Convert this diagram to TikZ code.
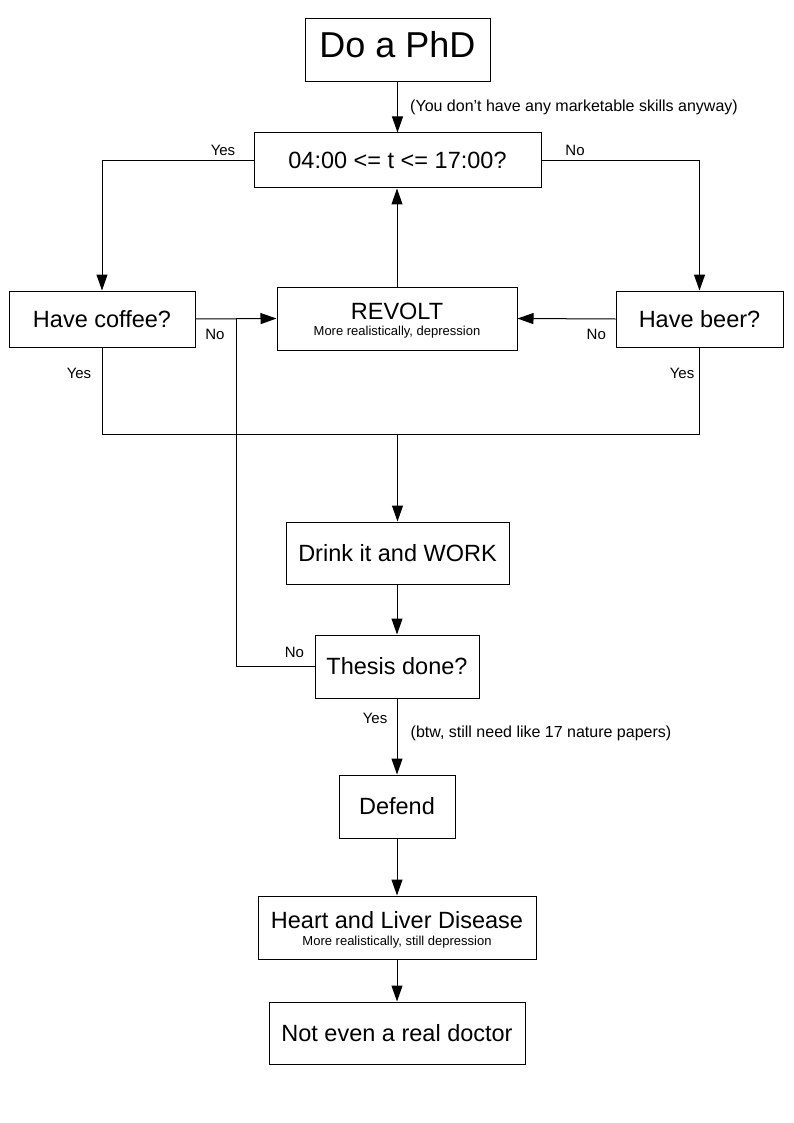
\documentclass[tikz,border=0pt]{standalone}
\usepackage{fontspec}
\setmainfont{Liberation Sans}
\usetikzlibrary{arrows.meta}
\tikzset{
  box/.style={draw, line width=1pt, inner sep=0pt, align=center},
  big/.style={font=\fontsize{23.5}{26}\selectfont, text height=16.8pt, text depth=0pt},
  sub/.style={inner sep=0pt, font=\fontsize{13}{15}\selectfont, text height=9.3pt, text depth=0pt},
  lab/.style={inner sep=0pt, font=\fontsize{15}{17}\selectfont, text height=10.7pt, text depth=0pt},
  note/.style={inner sep=0pt, font=\fontsize{16}{18}\selectfont, text height=11.5pt, text depth=0pt, anchor=west},
  conn/.style={line width=1pt},
  arr/.style={line width=1pt, -{Triangle[length=16pt,width=11pt]}}
}
\begin{document}
\begin{tikzpicture}[x=1pt,y=-1pt]
\useasboundingbox (0,0) rectangle (794,1123);
% boxes
\node[box, minimum width=185pt, minimum height=63pt, font=\fontsize{36}{40}\selectfont, text height=25.8pt, text depth=10.8pt] (phd) at (397.5,50.5) {Do a PhD};
\node[box, big, minimum width=287pt, minimum height=55pt] (time) at (397.5,160.5) {04:00 <= t <= 17:00?};
\node[box, big, minimum width=186pt, minimum height=56pt] (coffee) at (102,319) {Have coffee?};
\node[box, minimum width=240pt, minimum height=63pt] (revolt) at (397,318.5) {};
\node[big, inner sep=0pt] (revoltT) at (397,311) {REVOLT};
\node[sub] (revoltS) at (397,331) {More realistically, depression};
\node[box, big, minimum width=167pt, minimum height=56pt] (beer) at (699.5,319) {Have beer?};
\node[box, big, minimum width=223pt, minimum height=62pt] (drink) at (397.5,553) {Drink it and WORK};
\node[box, big, minimum width=164pt, minimum height=63pt] (thesis) at (397,666.5) {Thesis done?};
\node[box, big, minimum width=116pt, minimum height=63pt] (defend) at (397,806.5) {Defend};
\node[box, minimum width=278pt, minimum height=63pt] (heart) at (397,927.5) {};
\node[big, inner sep=0pt] (heartT) at (397,920) {Heart and Liver Disease};
\node[sub] (heartS) at (397,941) {More realistically, still depression};
\node[box, big, minimum width=256pt, minimum height=62pt] (doctor) at (397,1033) {Not even a real doctor};
% junctions
\coordinate (cl) at (102,160.5);
\coordinate (cr) at (699.5,160.5);
\coordinate (jl) at (102,434);
\coordinate (jr) at (699.5,434);
\coordinate (jm) at (397.5,434);
\coordinate (loopB) at (236,666.5);
\coordinate (loopT) at (236,319);
% connectors
\draw[arr] (phd.south -| 397.5,0) -- (time.north -| 397.5,0);
\draw[arr] (time.west) -- (cl) -- (coffee.north);
\draw[arr] (time.east) -- (cr) -- (beer.north);
\draw[arr] (coffee.east) -- (revolt.west);
\draw[arr] (beer.west) -- (revolt.east);
\draw[arr] (revolt.north) -- (time.south -| revolt.north);
\draw[conn] (coffee.south) -- (jl) -- (jr) -- (beer.south);
\draw[arr] (jm) -- (drink.north);
\draw[arr] (drink.south -| thesis.north) -- (thesis.north);
\draw[conn] (thesis.west) -- (loopB) -- (loopT);
\draw[arr] (thesis.south) -- (defend.north);
\draw[arr] (defend.south) -- (heart.north);
\draw[arr] (heart.south) -- (doctor.north);
% labels
\node[note] (n1) at (410,105.8) {(You don’t have any marketable skills anyway)};
\node[lab] (l1) at (223,150.3) {Yes};
\node[lab] (l2) at (575,150.3) {No};
\node[lab] (l3) at (215,334) {No};
\node[lab] (l4) at (596.3,334) {No};
\node[lab] (l5) at (79,373) {Yes};
\node[lab] (l6) at (682,373) {Yes};
\node[lab] (l7) at (294.5,652.5) {No};
\node[lab] (l8) at (375,718.3) {Yes};
\node[note] (n2) at (410.5,732) {(btw, still need like 17 nature papers)};
\end{tikzpicture}
\end{document}
